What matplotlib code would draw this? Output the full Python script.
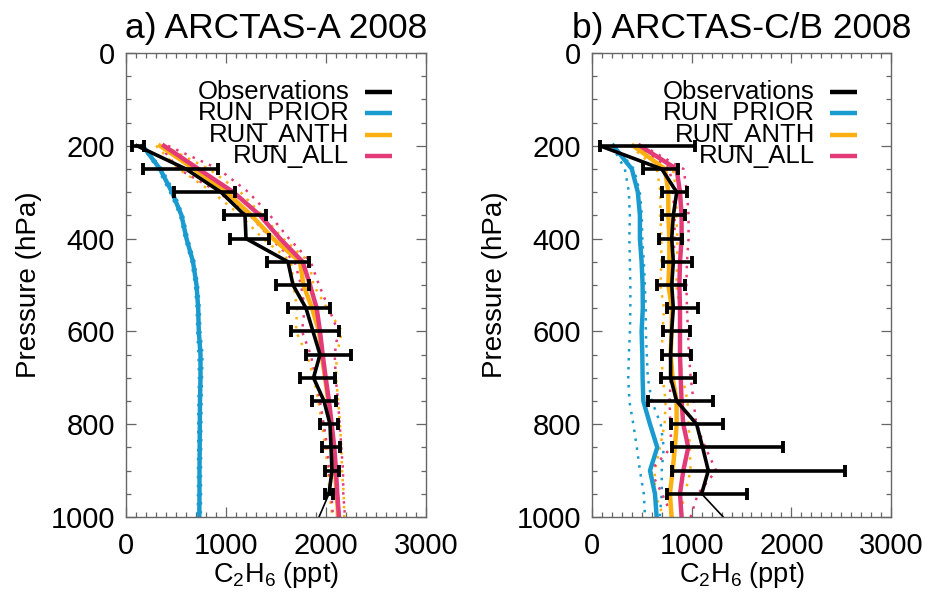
import numpy as np
import matplotlib
matplotlib.use("Agg")
import matplotlib.pyplot as plt

plt.rcParams["font.family"] = ["Liberation Sans", "DejaVu Sans"]
plt.rcParams["mathtext.default"] = "regular"

# -----------------------------
# DATA
# -----------------------------

# model pressure levels (hPa)
p_model = np.array([200, 250, 300, 350, 400, 450, 500, 550, 600,
                    650, 700, 750, 800, 850, 900, 950, 1000])

# observation levels (hPa)
p_obs = np.array([200, 250, 300, 350, 400, 450, 500, 550,
                  600, 650, 700, 750, 800, 850, 900, 950])

# ---- panel a) ARCTAS-A 2008 ----
a_obs = np.array([110, 600, 950, 1190, 1200, 1620, 1670, 1800,
                  1870, 1940, 1875, 1980, 2040, 2050, 2060, 2030])
a_obs_lo = np.array([60, 170, 480, 980, 1040, 1410, 1500, 1620,
                     1650, 1800, 1740, 1865, 1940, 1960, 1990, 1990])
a_obs_hi = np.array([180, 920, 1090, 1400, 1430, 1830, 1830, 2040,
                     2130, 2250, 2090, 2100, 2120, 2140, 2130, 2070])
a_obs_sfc = 1930

a_prior = np.array([167, 340, 460, 555, 605, 670, 705, 722, 728,
                    745, 745, 740, 738, 737, 735, 735, 733])
a_prior_sd = np.array([10, 20, 20, 15, 15, 15, 15, 15, 15,
                       20, 15, 15, 15, 15, 15, 15, 15])
a_anth = np.array([340, 680, 1005, 1255, 1470, 1740, 1775, 1860, 1930,
                   1957, 1990, 2023, 2050, 2073, 2090, 2107, 2123])
a_anth_sd = np.array([40, 150, 140, 110, 100, 90, 100, 150, 230,
                      150, 110, 100, 90, 80, 70, 70, 60])
a_all = np.array([380, 725, 1075, 1340, 1540, 1767, 1840, 1907, 1940,
                  1967, 1997, 2030, 2057, 2083, 2100, 2113, 2130])
a_all_sd = np.array([40, 200, 150, 100, 90, 80, 90, 120, 180,
                     120, 100, 90, 80, 70, 70, 60, 60])

# ---- panel b) ARCTAS-C/B 2008 ----
b_obs = np.array([80, 700, 850, 816, 800, 816, 800, 816,
                  799, 789, 789, 849, 1050, 1110, 1167, 1100])
b_obs_lo = np.array([80, 515, 700, 700, 675, 710, 650, 755,
                     715, 700, 692, 558, 789, 799, 799, 749])
b_obs_hi = np.array([1033, 866, 950, 933, 900, 1000, 933, 1066,
                     983, 993, 1033, 1217, 1311, 1913, 2540, 1551])
b_obs_sfc = 1317

b_prior = np.array([214, 400, 460, 481, 481, 498, 508, 510, 498,
                    505, 508, 515, 582, 655, 582, 632, 649])
b_prior_lo = np.array([200, 330, 370, 380, 375, 380, 385, 385, 381,
                       370, 364, 375, 415, 450, 481, 520, 532])
b_prior_hi = np.array([230, 420, 480, 500, 505, 520, 530, 540, 540,
                       550, 560, 600, 690, 720, 700, 700, 680])
b_anth = np.array([414, 732, 766, 766, 776, 776, 766, 802, 799,
                   789, 809, 849, 849, 832, 809, 782, 799])
b_anth_sd = np.array([30, 80, 80, 80, 80, 80, 80, 80, 90,
                      90, 100, 110, 120, 150, 180, 150, 80])
b_all = np.array([481, 849, 883, 899, 899, 883, 877, 883, 883,
                  883, 890, 899, 916, 966, 916, 883, 899])
b_all_sd = np.array([30, 70, 70, 70, 70, 70, 70, 70, 80,
                     90, 100, 120, 130, 170, 330, 180, 90])

titles = ["a) ARCTAS-A 2008", "b) ARCTAS-C/B 2008"]
labels = ["Observations", "RUN_PRIOR", "RUN_ANTH", "RUN_ALL"]

# -----------------------------
# STYLE
# -----------------------------

c_obs = "black"
c_prior = "#1a9bd0"
c_anth = "#fdb00f"
c_all = "#e33b78"
colors = [c_obs, c_prior, c_anth, c_all]
dot = (0, (1, 2.6))

fig = plt.figure(figsize=(9.34, 5.92), dpi=100)
ax_a = fig.add_axes([0.1349, 0.1267, 0.3212, 0.7838])
ax_b = fig.add_axes([0.6338, 0.1267, 0.3202, 0.7838])

panels = [
    (ax_a, a_obs, a_obs_lo, a_obs_hi, a_obs_sfc,
     [(a_prior, a_prior - a_prior_sd, a_prior + a_prior_sd, c_prior),
      (a_anth, a_anth - a_anth_sd, a_anth + a_anth_sd, c_anth),
      (a_all, a_all - a_all_sd, a_all + a_all_sd, c_all)]),
    (ax_b, b_obs, b_obs_lo, b_obs_hi, b_obs_sfc,
     [(b_prior, b_prior_lo, b_prior_hi, c_prior),
      (b_anth, b_anth - b_anth_sd, b_anth + b_anth_sd, c_anth),
      (b_all, b_all - b_all_sd, b_all + b_all_sd, c_all)]),
]

for i, (ax, obs, lo, hi, sfc, models) in enumerate(panels):
    # dotted spread lines
    for mean, mlo, mhi, col in models:
        ax.plot(mlo, p_model, color=col, lw=1.8, ls=dot)
        ax.plot(mhi, p_model, color=col, lw=1.8, ls=dot)
    # model means
    for mean, mlo, mhi, col in models:
        ax.plot(mean, p_model, color=col, lw=3.2, solid_joinstyle="miter")

    # observations
    ax.errorbar((lo + hi) / 2, p_obs, xerr=(hi - lo) / 2, fmt="none",
                ecolor=c_obs, elinewidth=2.6, capsize=4, capthick=2.8)
    ax.plot(obs, p_obs, color=c_obs, lw=2.6)
    ax.plot([obs[-1], sfc], [p_obs[-1], 1000], color=c_obs, lw=1.2)

    ax.set_xlim(0, 3000)
    ax.set_ylim(1000, 0)
    ax.set_xticks([0, 1000, 2000, 3000])
    ax.set_xticks(np.arange(0, 3001, 100), minor=True)
    ax.set_yticks([0, 200, 400, 600, 800, 1000])
    ax.set_yticks(np.arange(0, 1001, 50), minor=True)
    ax.tick_params(which="both", direction="in", top=True, right=True,
                   color="#666666", width=0.9, labelsize=21, pad=8)
    ax.tick_params(axis="x", which="major", pad=11)
    ax.tick_params(which="major", length=7)
    ax.tick_params(which="minor", length=3.5)
    for s in ax.spines.values():
        s.set_color("#666666")
        s.set_linewidth(1.0)

    ax.set_title(titles[i], fontsize=25.5, pad=11)
    ax.set_xlabel("C$_2$H$_6$ (ppt)", fontsize=19.5, labelpad=0)
    ax.set_ylabel("Pressure (hPa)", fontsize=20, labelpad=6)

    # legend: right-aligned text with short line sample on the right
    for k, (lab, col) in enumerate(zip(labels, colors)):
        yk = 0.916 - k * 0.046
        ax.text(0.745, yk, lab, transform=ax.transAxes, ha="right",
                va="center", fontsize=18.5)
        ax.plot([0.797, 0.887], [yk, yk], color=col, lw=3.2,
                transform=ax.transAxes, solid_capstyle="butt")

fig.savefig("out.png", dpi=100)
